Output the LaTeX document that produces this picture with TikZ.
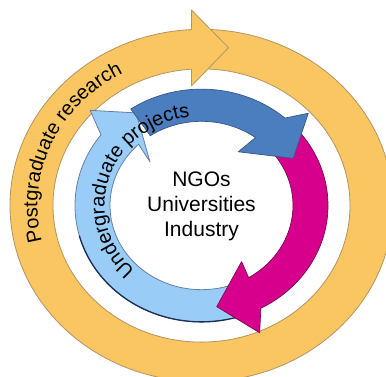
\documentclass[tikz,border=0pt]{standalone}
\usepackage{fontspec}
\setmainfont{Liberation Sans}
\usetikzlibrary{decorations.text}

\definecolor{ringorange}{RGB}{250,198,98}
\definecolor{ringedge}{RGB}{178,148,100}
\definecolor{lightarrow}{RGB}{153,204,246}
\definecolor{lightedge}{RGB}{100,128,168}
\definecolor{lightshade}{RGB}{30,45,85}
\definecolor{darkarrow}{RGB}{74,126,190}
\definecolor{darkedge}{RGB}{56,86,136}
\definecolor{pinkarrow}{RGB}{214,0,140}
\definecolor{pinkedge}{RGB}{118,10,80}

\begin{document}
\begin{tikzpicture}[x=1pt,y=1pt]
        \tikzset{ring/.style = {fill=ringorange,draw=ringedge,line width=0.8pt,line join=round}}
        \tikzset{lightbody/.style = {fill=lightarrow,draw=lightedge,line width=0.8pt,line join=round}}
        \tikzset{darkbody/.style = {fill=darkarrow,draw=darkedge,line width=0.7pt,line join=round}}
        \tikzset{pinkbody/.style = {fill=pinkarrow,draw=pinkedge,line width=0.7pt,line join=round}}
        \tikzset{bandtext/.style 2 args = {decorate,decoration={text along path,text align=center,text={|\fontsize{#1}{#1}\selectfont|#2}}}}
        \useasboundingbox (-201.5,-171.5) rectangle (184.5,205.5);
        \begin{scope}
        \clip (-201.5,-171.5) rectangle (184.5,205.5);
        \begin{scope}[yscale=0.92]
        % outer ring
        \draw[ring] (90:148.5) -- (90:191.5) arc[start angle=90,end angle=-269,radius=191.5]
            -- (-269:148.5) arc[start angle=-269,end angle=90,radius=148.5] -- cycle;
        \draw[ring] (-10,191.2) -- (-10,212.5) -- (27,171.5) -- (-10,130) -- (-10,148.2);
        % inner arrows
        \draw[lightbody] (-67:91.5) -- (-67:126.5) arc[start angle=-67,end angle=-217.4,radius=126.5]
            -- (137.1:152) -- (123:120) -- (137.4:70) -- (133.4:91.5)
            arc[start angle=-226.6,end angle=-67,radius=91.5] -- cycle;
        \draw[lightshade,line width=1.3pt] (-67:126.5) arc[start angle=-67,end angle=-165,radius=126.5];
        \draw[pinkbody] (45:91.5) -- (45:126.5) arc[start angle=45,end angle=-62,radius=126.5]
            -- (-67.2:150) -- (-82.1:111) -- (-56.7:73) -- (-59:91.5)
            arc[start angle=-59,end angle=45,radius=91.5] -- cycle;
        \draw[darkbody] (124:91.5) -- (124:126.5) arc[start angle=124,end angle=48.7,radius=126.5]
            -- (43.2:146.5) -- (29.2:105) -- (57.8:69) -- (53.8:91.5)
            arc[start angle=53.8,end angle=124,radius=91.5] -- cycle;
        % labels on the bands
        \path[bandtext={20}{Postgraduate research}] (230:164) arc[start angle=230,end angle=84,radius=164];
        \path[bandtext={20}{Undergraduate projects}] (265:97) arc[start angle=265,end angle=59,radius=97];
        \end{scope}
        \end{scope}
        % centre
        \node[align=center,font=\fontsize{21}{25}\selectfont] (partners) at (0,-1) {NGOs\\Universities\\Industry};
\end{tikzpicture}
\end{document}
